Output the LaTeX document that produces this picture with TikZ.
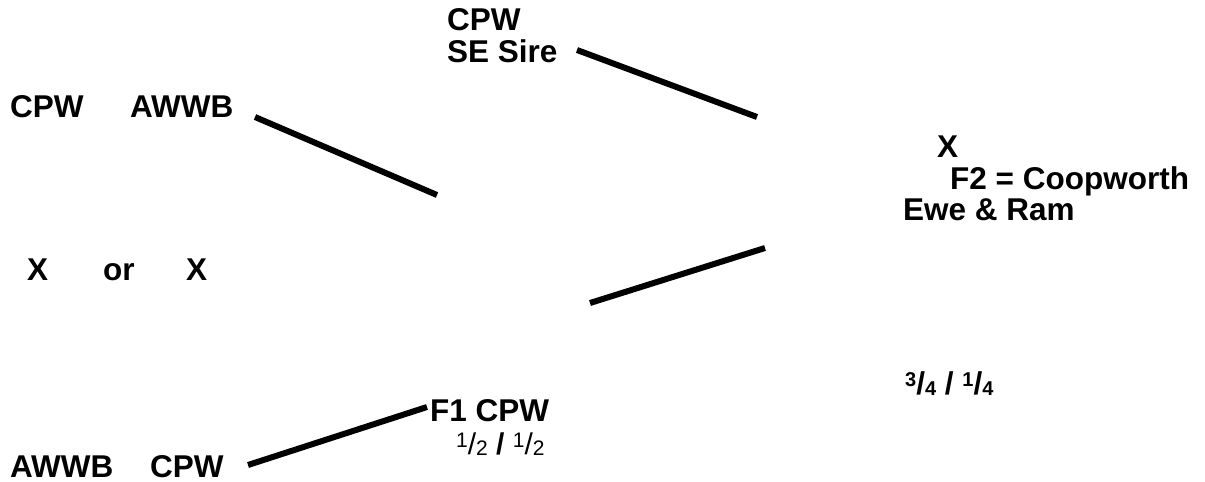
\documentclass[tikz,border=0pt]{standalone}
\usepackage{fontspec}
\setmainfont{Liberation Sans}
\newcommand\fsup[1]{\raisebox{8pt}{\fontsize{20}{20}\selectfont #1}}
\newcommand\fsub[1]{\raisebox{-1.5pt}{\fontsize{20}{20}\selectfont #1}}
\newcommand\hsup[1]{\raisebox{7pt}{\fontsize{21}{21}\selectfont #1}}
\newcommand\hsub[1]{\raisebox{-1pt}{\fontsize{21}{21}\selectfont #1}}
\begin{document}
\begin{tikzpicture}[x=1pt,y=-1pt,
  lbl/.style={anchor=base west, inner sep=0pt, font=\fontsize{31.5}{34}\selectfont\bfseries},
  reg/.style={anchor=base west, inner sep=0pt, font=\fontsize{30}{32}\selectfont},
  link/.style={line width=6pt}]
\useasboundingbox (0,0) rectangle (1205,482);
% top sire
\node[lbl] (cpwtop) at (447,30) {CPW};
\node[lbl] (sesire) at (447,62) {SE Sire};
% left upper pair
\node[lbl] (cpwl) at (10,117) {CPW};
\node[lbl] (awwbl) at (130,117) {AWWB};
% crosses
\node[lbl] (x1) at (27,280) {X};
\node[lbl] (or) at (103,280) {or};
\node[lbl] (x2) at (186,280) {X};
% left lower pair
\node[lbl] (awwbb) at (10,477) {AWWB};
\node[lbl] (cpwb) at (150,477) {CPW};
% F1
\node[lbl] (f1) at (430,421) {F1 CPW};
\node[reg] (half) at (456,454) {\hsup{1}/\hsub{2} \textbf{/} \hsup{1}/\hsub{2}};
% right side
\node[lbl] (xr) at (937,157) {X};
\node[lbl] (f2) at (950,189) {F2 = Coopworth};
\node[lbl] (ewe) at (903,220) {Ewe \& Ram};
\node[lbl] (quarter) at (905,394) {\fsup{3}/\fsub{4} / \fsup{1}/\fsub{4}};
% connector end points
\coordinate (a1) at (577,50);  \coordinate (a2) at (757,117);
\coordinate (b1) at (255,117); \coordinate (b2) at (437,195);
\coordinate (c1) at (590,303); \coordinate (c2) at (765,248);
\coordinate (d1) at (248,465); \coordinate (d2) at (427,407);
\draw[link] (a1) -- (a2);
\draw[link] (b1) -- (b2);
\draw[link] (c1) -- (c2);
\draw[link] (d1) -- (d2);
\end{tikzpicture}
\end{document}
